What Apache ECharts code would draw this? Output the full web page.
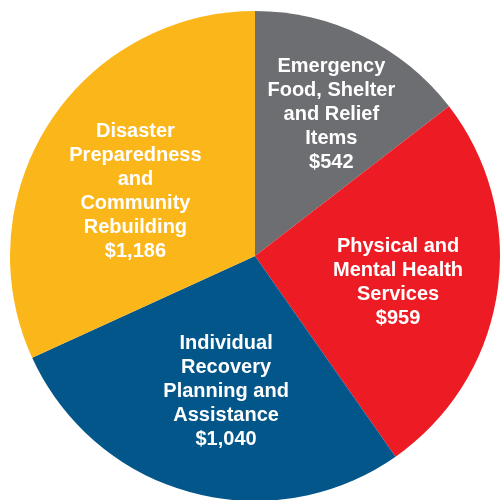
<!doctype html>
<html lang="en">
  <head>
    <meta charset="UTF-8" />
    <title>Spending by category</title>
    <script src="https://cdn.jsdelivr.net/npm/echarts@6/dist/echarts.min.js"></script>
    <style>
      html, body { margin: 0; padding: 0; background: #fff; }
      #chart { width: 500px; height: 500px; }
    </style>
  </head>
  <body>
    <div id="chart"></div>
    <script>
      // slices clockwise from 12 o'clock
      const categories = [
        'Emergency\nFood, Shelter\nand Relief\nItems',
        'Physical and\nMental Health\nServices',
        'Individual\nRecovery\nPlanning and\nAssistance',
        'Disaster\nPreparedness\nand\nCommunity\nRebuilding'
      ];
      const values = [542, 959, 1040, 1186];
      const colors = ['#6d6e71', '#ed1c24', '#03568a', '#fbb61a'];
      // nudge of each label away from the default inside spot
      const labelNudge = [[21, -29], [19, 8], [4, 14], [-14, 3]];

      function money(v) {
        return '$' + String(v).replace(/\B(?=(\d{3})+(?!\d))/g, ',');
      }

      const chart = echarts.init(document.getElementById('chart'));
      chart.setOption({
        animation: false,
        series: [
          {
            type: 'pie',
            center: [255, 256],
            radius: 245,
            startAngle: 90,
            clockwise: true,
            itemStyle: { borderWidth: 0 },
            label: {
              show: true,
              position: 'inside',
              color: '#fff',
              fontFamily: 'Liberation Sans, Arial, sans-serif',
              fontWeight: 'bold',
              fontSize: 20,
              lineHeight: 24,
              align: 'center',
              formatter: (p) => p.name + '\n' + money(p.value)
            },
            labelLine: { show: false },
            labelLayout: function (params) {
              const n = labelNudge[params.dataIndex];
              return { dx: n[0], dy: n[1] };
            },
            emphasis: { disabled: true },
            data: values.map((v, i) => ({
              name: categories[i],
              value: v,
              itemStyle: { color: colors[i] }
            }))
          }
        ]
      });
    </script>
  </body>
</html>
